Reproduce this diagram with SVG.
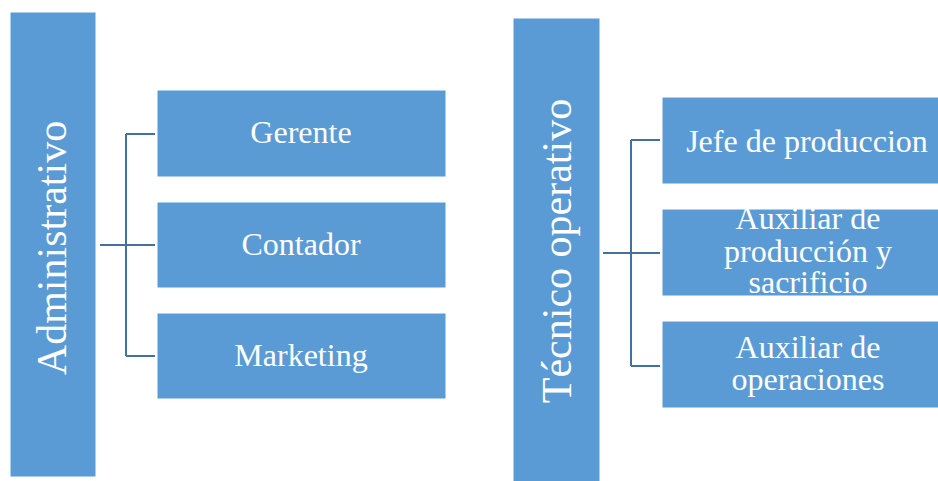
<svg xmlns="http://www.w3.org/2000/svg" width="938" height="481" viewBox="0 0 938 481">
<style>
.box{fill:#5b9bd5;stroke:#ffffff;stroke-width:1}
.t{font-family:"Liberation Serif","Times New Roman",serif;fill:#ffffff;text-anchor:middle}
.s{font-size:32px}
.v{font-size:42px}
.c{stroke:#41719c;stroke-width:2;fill:none}
</style>
<rect width="938" height="481" fill="#ffffff"/>
<g id="connectors">
<path class="c" d="M100 245H126M126 134V356M126 134H155M126 245H155M126 356H155"/>
<path class="c" d="M603 253H631M631 140V366M631 140H660M631 253H660M631 366H660"/>
</g>
<g id="administrativo">
<rect class="box" x="10" y="12" width="86" height="465"/>
<text class="t v" transform="translate(66 248) rotate(-90)">Administrativo</text>
</g>
<g id="gerente">
<rect class="box" x="157" y="90" width="289" height="87"/>
<text class="t s" x="301" y="143">Gerente</text>
</g>
<g id="contador">
<rect class="box" x="157" y="202" width="289" height="86"/>
<text class="t s" x="301" y="255">Contador</text>
</g>
<g id="marketing">
<rect class="box" x="157" y="313" width="289" height="86"/>
<text class="t s" x="301" y="366">Marketing</text>
</g>
<g id="tecnico">
<rect class="box" x="513" y="18" width="87" height="470"/>
<text class="t v" transform="translate(571 251) rotate(-90)">Técnico operativo</text>
</g>
<g id="jefe">
<rect class="box" x="662" y="97" width="292" height="87"/>
<text class="t s" x="807" y="152">Jefe de produccion</text>
</g>
<g id="auxiliar-produccion">
<rect class="box" x="662" y="209" width="292" height="87"/>
<text class="t s" x="808" y="229">Auxiliar de</text>
<text class="t s" x="808" y="262">producción y</text>
<text class="t s" x="808" y="293">sacrificio</text>
</g>
<g id="auxiliar-operaciones">
<rect class="box" x="662" y="321" width="292" height="87"/>
<text class="t s" x="808" y="358">Auxiliar de</text>
<text class="t s" x="808" y="390">operaciones</text>
</g>
</svg>
